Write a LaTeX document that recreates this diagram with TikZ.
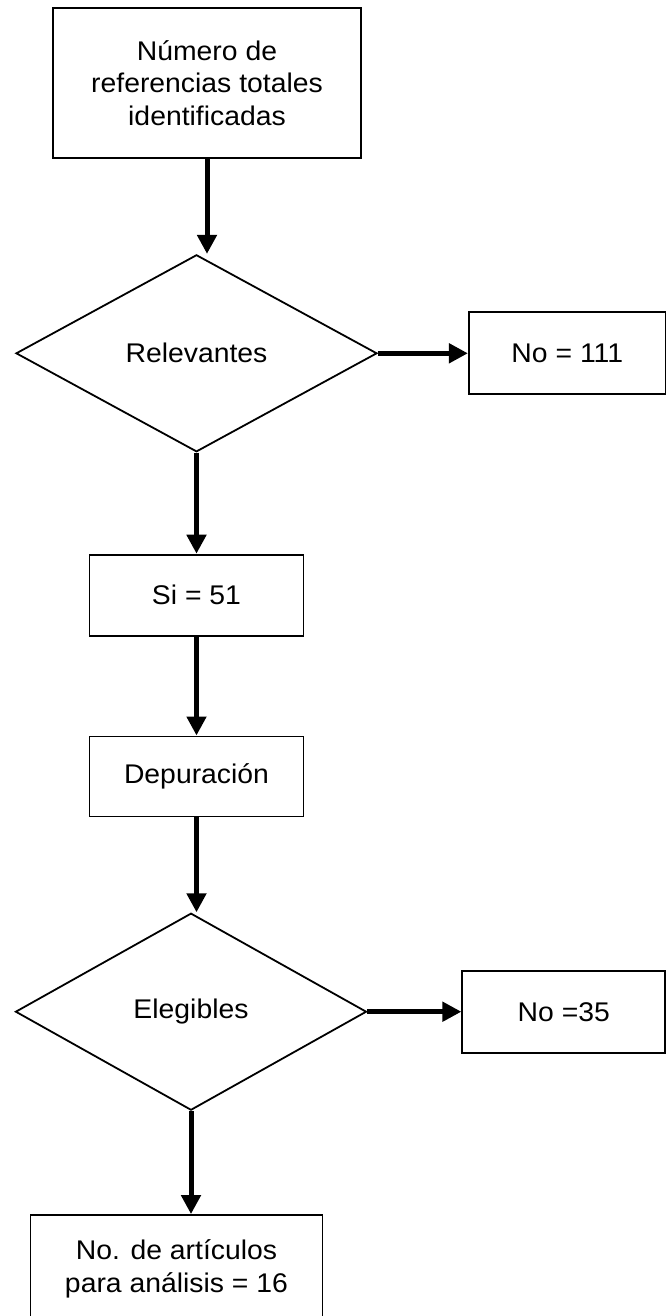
\documentclass[tikz,border=0pt]{standalone}
\usepackage{fontspec}
\setmainfont{Liberation Sans}[FakeStretch=1.05]
\usetikzlibrary{shapes.geometric,arrows.meta,positioning}

\begin{document}
\begin{tikzpicture}[
    node distance=47.5pt,
    font=\fontsize{13.5}{16.3}\selectfont,
    box/.style={rectangle, draw, line width=0.9pt, align=center, inner sep=0pt},
    dec/.style={diamond, draw, line width=0.9pt, align=center, inner sep=0pt, aspect=2},
    arr/.style={-{Triangle[length=9.5pt,width=9.5pt]}, line width=2.5pt},
]
    \useasboundingbox (0,0) rectangle (332.5pt,-658pt);

    % Top box
    \node[box, minimum width=154pt, minimum height=75pt] (tot) at (103.5pt,-41.5pt) {Número de\\referencias totales\\identificadas};

    % First decision
    \node[dec, minimum width=180.5pt, minimum height=98.5pt, below=47.5pt of tot, xshift=-5.25pt] (rel) {Relevantes};
    \node[box, minimum width=98.5pt, minimum height=41pt, right=45pt of rel] (no-rel) {No = 111};

    % Middle column
    \node[box, minimum width=107pt, minimum height=40.5pt, below=50.5pt of rel] (si) {Si = 51};
    \node[box, minimum width=107pt, minimum height=40pt, below=49.5pt of si] (dep) {Depuración};

    % Second decision
    \node[dec, minimum width=175.5pt, minimum height=98.5pt, below=47.5pt of dep, xshift=-2.75pt] (eleg) {Elegibles};
    \node[box, minimum width=101.5pt, minimum height=41pt, right=47pt of eleg] (no-eleg) {No =35};

    % Final box
    \node[box, minimum width=146pt, minimum height=54pt, below=51.5pt of eleg, xshift=-7.25pt] (fin) {No. de artículos\\para análisis = 16};

    % Arrows
    \draw[arr] (tot) -- (tot |- rel.north);
    \draw[arr] (rel) -- (rel -| no-rel.west);
    \draw[arr] (rel) -- (rel |- si.north);
    \draw[arr] (si) -- (dep);
    \draw[arr] (dep) -- (dep |- eleg.north);
    \draw[arr] (eleg) -- (eleg -| no-eleg.west);
    \draw[arr] (eleg) -- (eleg |- fin.north);

\end{tikzpicture}
\end{document}
